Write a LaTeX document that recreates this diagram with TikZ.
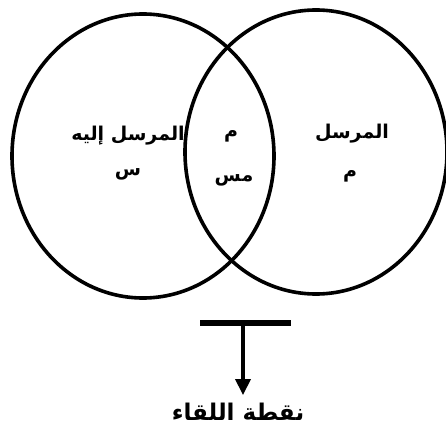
\documentclass[tikz,border=0pt]{standalone}
\usepackage{fontspec}
\newfontfamily\arabicfont[Script=Arabic]{DejaVu Sans}
\TeXXeTstate=1
\usetikzlibrary{arrows.meta,shapes.geometric}

\begin{document}
\begin{tikzpicture}[x=1pt,y=-1pt,font=\arabicfont\bfseries\fontsize{19}{22}\selectfont,
  ring/.style={draw,ellipse,line width=3.6pt,minimum width=262pt,minimum height=284pt,inner sep=0pt},
  lbl/.style={align=center,inner sep=1pt},>={Triangle[length=16pt,width=15pt]}]
\useasboundingbox (0,0) rectangle (446,430);
\node[ring] (receiver) at (143,156) {};
\node[ring] (sender) at (316,152) {};
\node[lbl] (rname) at (128,136) {\beginR المرسل إليه\endR};
\node[lbl] (rsym) at (128,174) {\beginR س\endR};
\node[lbl] (both) at (231,136) {\beginR م\endR};
\node[lbl] (bothsym) at (234,180) {\beginR مس\endR};
\node[lbl] (sname) at (352,134) {\beginR المرسل\endR};
\node[lbl] (ssym) at (350,176) {\beginR م\endR};
\coordinate (barL) at (200,323);
\coordinate (barR) at (291,323);
\coordinate (barM) at (243,323);
\node[lbl,font=\arabicfont\bfseries\fontsize{23}{26}\selectfont] (meet) at (238,412) {\beginR نقطة اللقاء\endR};
\draw[line width=6pt] (barL) -- (barR);
\draw[->,line width=3.6pt] (barM) -- ([yshift=7pt]barM |- meet.north);
\end{tikzpicture}
\end{document}
